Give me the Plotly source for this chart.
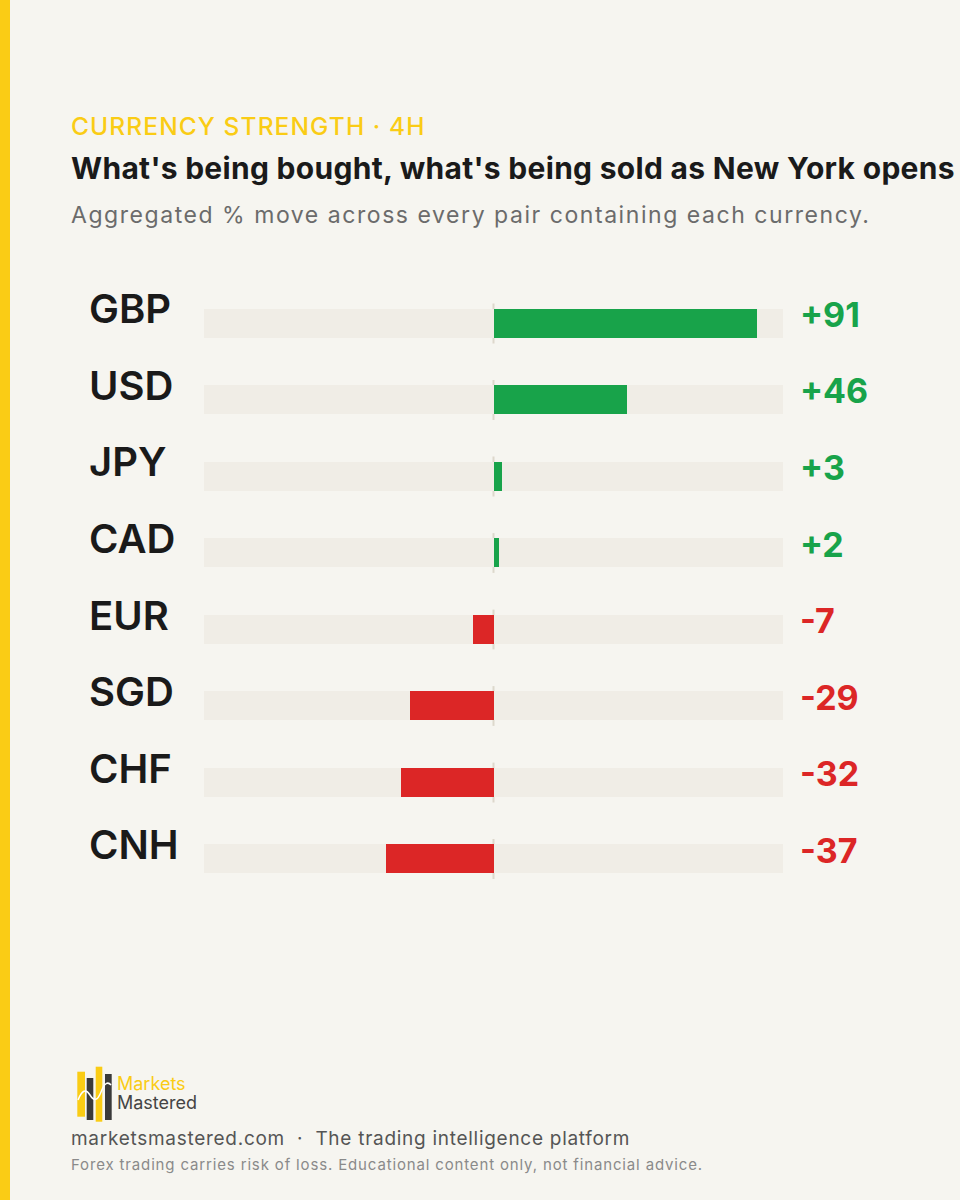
import json
import plotly.graph_objects as go

W, H = 960, 1200

currencies = ["GBP", "USD", "JPY", "CAD", "EUR", "SGD", "CHF", "CNH"]
values = [91, 46, 3, 2, -7, -29, -32, -37]
scale_min, scale_max = -100, 100

kicker = "CURRENCY STRENGTH · 4H"
title = "What's being bought, what's being sold as New York opens"
subtitle = "Aggregated % move across every pair containing each currency."
footer = "marketsmastered.com  ·  The trading intelligence platform"
disclaimer = "Forex trading carries risk of loss. Educational content only, not financial advice."

BG = "#F6F5F0"
TRACK = "#F0EDE6"
GREEN = "#18A34A"
RED = "#DC2626"
YELLOW = "#FACC15"
DARK = "#1A1A1A"
FONT = "Inter"


def px(x):
    return x / W


def py(y):
    return 1 - y / H


n = len(currencies)
row_top, row_step = 323.5, 76.5
dom_top = row_top - row_step / 2
dom_bot = dom_top + row_step * n

fig = go.Figure()

# background tracks
fig.add_trace(go.Bar(
    y=currencies, x=[scale_max - scale_min] * n, base=[scale_min] * n,
    orientation="h", marker=dict(color=TRACK, line=dict(width=0)),
    width=0.38, hoverinfo="skip", showlegend=False,
))
# value bars
fig.add_trace(go.Bar(
    y=currencies, x=values, orientation="h",
    marker=dict(color=[GREEN if v >= 0 else RED for v in values], line=dict(width=0)),
    width=0.38, showlegend=False,
))

shapes = []
# zero tick per row
for i in range(n):
    shapes.append(dict(type="line", xref="x", yref="y", x0=0, x1=0,
                       y0=i - 0.26, y1=i + 0.26, layer="below",
                       line=dict(color="#DDD8CC", width=2)))
# left yellow strip
shapes.append(dict(type="rect", xref="paper", yref="paper", x0=0, x1=px(10),
                   y0=0, y1=1, fillcolor=YELLOW, line=dict(width=0)))
# logo bars
logo = [(77.3, 85, 1071.7, 1116.7, YELLOW), (86.7, 93.3, 1078, 1120, "#3A3A3A"),
        (95.7, 102.3, 1066.7, 1121.7, YELLOW), (105, 111.7, 1074, 1120, "#3A3A3A")]
for x0, x1, y0, y1, c in logo:
    shapes.append(dict(type="rect", xref="paper", yref="paper", x0=px(x0), x1=px(x1),
                       y0=py(y1), y1=py(y0), fillcolor=c, line=dict(width=0)))
shapes.append(dict(type="path", xref="paper", yref="paper",
                   path=f"M {px(78)},{py(1100)} Q {px(84)},{py(1085)} {px(90)},{py(1095)} "
                        f"T {px(101)},{py(1092)} T {px(111)},{py(1085)}",
                   line=dict(color="white", width=1.5)))

annotations = []
for i, (c, v) in enumerate(zip(currencies, values)):
    annotations.append(dict(xref="paper", yref="y", x=px(87), y=c, yshift=14.5,
                            xanchor="left", yanchor="middle", showarrow=False, align="left",
                            text=c, font=dict(family=FONT, size=40, color=DARK, weight=600)))
    annotations.append(dict(xref="paper", yref="y", x=px(798), y=c, yshift=9,
                            xanchor="left", yanchor="middle", showarrow=False, align="left",
                            text=f"{v:+d}",
                            font=dict(family=FONT, size=34, color=GREEN if v >= 0 else RED, weight=700)))


def txt(x, y, s, size, color, weight=400):
    annotations.append(dict(xref="paper", yref="paper", x=px(x), y=py(y), text=s,
                            xanchor="left", yanchor="middle", showarrow=False, align="left",
                            font=dict(family=FONT, size=size, color=color, weight=weight)))


txt(69, 126, kicker, 24.5, YELLOW, 500)
txt(69, 168, title, 30, DARK, 700)
txt(69, 215, subtitle, 23, "#6B6B6B")
txt(115, 1083, "Markets", 18, YELLOW)
txt(115, 1102, "Mastered", 18, "#444444")
txt(69, 1138, footer, 19, "#555555")
txt(69, 1164, disclaimer, 15, "#8A8A8A")

fig.update_layout(
    width=W, height=H, margin=dict(l=0, r=0, t=0, b=0),
    paper_bgcolor=BG, plot_bgcolor="rgba(0,0,0,0)",
    barmode="overlay", bargap=0,
    shapes=shapes, annotations=annotations,
    xaxis=dict(domain=[px(204), px(783)], range=[scale_min, scale_max], visible=False, fixedrange=True),
    yaxis=dict(domain=[py(dom_bot), py(dom_top)], range=[n - 0.5, -0.5], visible=False,
               type="category", fixedrange=True),
    font=dict(family=FONT),
)

spacing = [[kicker[:10], 1.1], [title[:10], 0.3], [subtitle[:10], 1.55],
           [footer[:10], 0.72], [disclaimer[:10], 0.85]]
post = """
document.body.style.margin = '0';
var sp = %s;
document.querySelectorAll('text.annotation-text').forEach(function (t) {
  var k = t.textContent;
  sp.forEach(function (p) { if (k.indexOf(p[0]) === 0) { t.style.letterSpacing = p[1] + 'px'; } });
});
""" % json.dumps(spacing)

fig.write_html("out.html", post_script=post, config={"displayModeBar": False})
